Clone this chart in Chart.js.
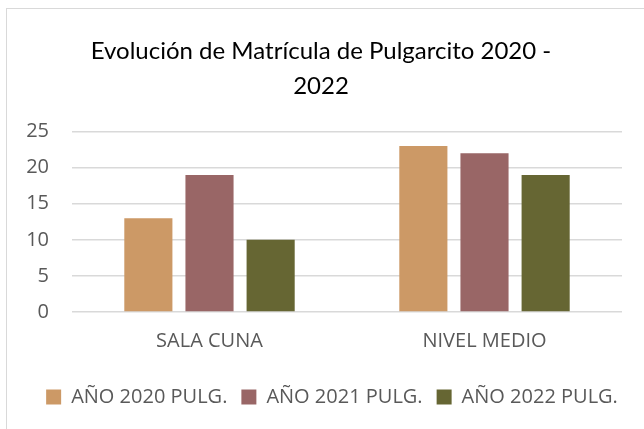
<!DOCTYPE html>
<html>
<head>
<meta charset="utf-8">
<script src="https://cdn.jsdelivr.net/npm/chart.js"></script>
<style>
  html, body { margin: 0; padding: 0; background: #fff; }
  #wrap { position: absolute; left: 0; top: 0; width: 644px; height: 429px; }
  #frame { position: absolute; left: 6px; top: 8px; width: 700px; height: 500px; border: 1px solid #d9d9d9; }
</style>
</head>
<body>
<div id="frame"></div>
<div id="wrap"><canvas id="myChart" width="644" height="429"></canvas></div>
<script>
const categorias = ['SALA CUNA', 'NIVEL MEDIO'];
const anios = ['AÑO 2020 PULG.', 'AÑO 2021 PULG.', 'AÑO 2022 PULG.'];
const valores2020 = [13, 23];
const valores2021 = [19, 22];
const valores2022 = [10, 19];
const colores = ['#CC9966', '#996666', '#666633'];

// titulo y leyenda van corridos un poco a la derecha, como en el original
const moverCajas = {
    id: 'moverCajas',
    afterLayout(chart) {
        chart.titleBlock.left += 10;
        chart.titleBlock.right += 10;
        chart.legend.left += 21;
        chart.legend.right += 21;
    }
};

const datos = {
    labels: categorias,
    datasets: [
        { label: anios[0], data: valores2020, backgroundColor: colores[0] },
        { label: anios[1], data: valores2021, backgroundColor: colores[1] },
        { label: anios[2], data: valores2022, backgroundColor: colores[2] }
    ]
};

const config = {
    type: 'bar',
    data: datos,
    plugins: [moverCajas],
    options: {
        responsive: false,
        animation: false,
        categoryPercentage: 0.667,
        barPercentage: 0.787,
        layout: { padding: { left: 0, right: 22, top: 16, bottom: 12 } },
        scales: {
            x: {
                grid: { display: false, drawTicks: false },
                border: { display: false },
                ticks: { color: '#595959', font: { family: 'Open Sans', size: 20 }, padding: 17 },
                afterFit: (s) => { s.height = 61; }
            },
            y: {
                min: 0,
                max: 25,
                ticks: { stepSize: 5, color: '#595959', font: { family: 'Open Sans', size: 20 }, padding: 23 },
                grid: { color: '#d9d9d9', lineWidth: 1.5, drawTicks: false },
                border: { display: false },
                afterFit: (s) => { s.width = 72; }
            }
        },
        plugins: {
            legend: {
                position: 'bottom',
                labels: {
                    boxWidth: 15,
                    boxHeight: 15,
                    color: '#595959',
                    font: { family: 'Open Sans', size: 20 },
                    padding: 14
                }
            },
            title: {
                display: true,
                text: ['Evolución de Matrícula de Pulgarcito 2020 -', '2022'],
                color: '#000',
                font: { family: 'Lato', size: 24, weight: 'normal', lineHeight: 1.45 },
                padding: { top: 18, bottom: 28 }
            },
            tooltip: { enabled: false }
        }
    }
};

const myChart = new Chart(document.getElementById('myChart'), config);
</script>
</body>
</html>
